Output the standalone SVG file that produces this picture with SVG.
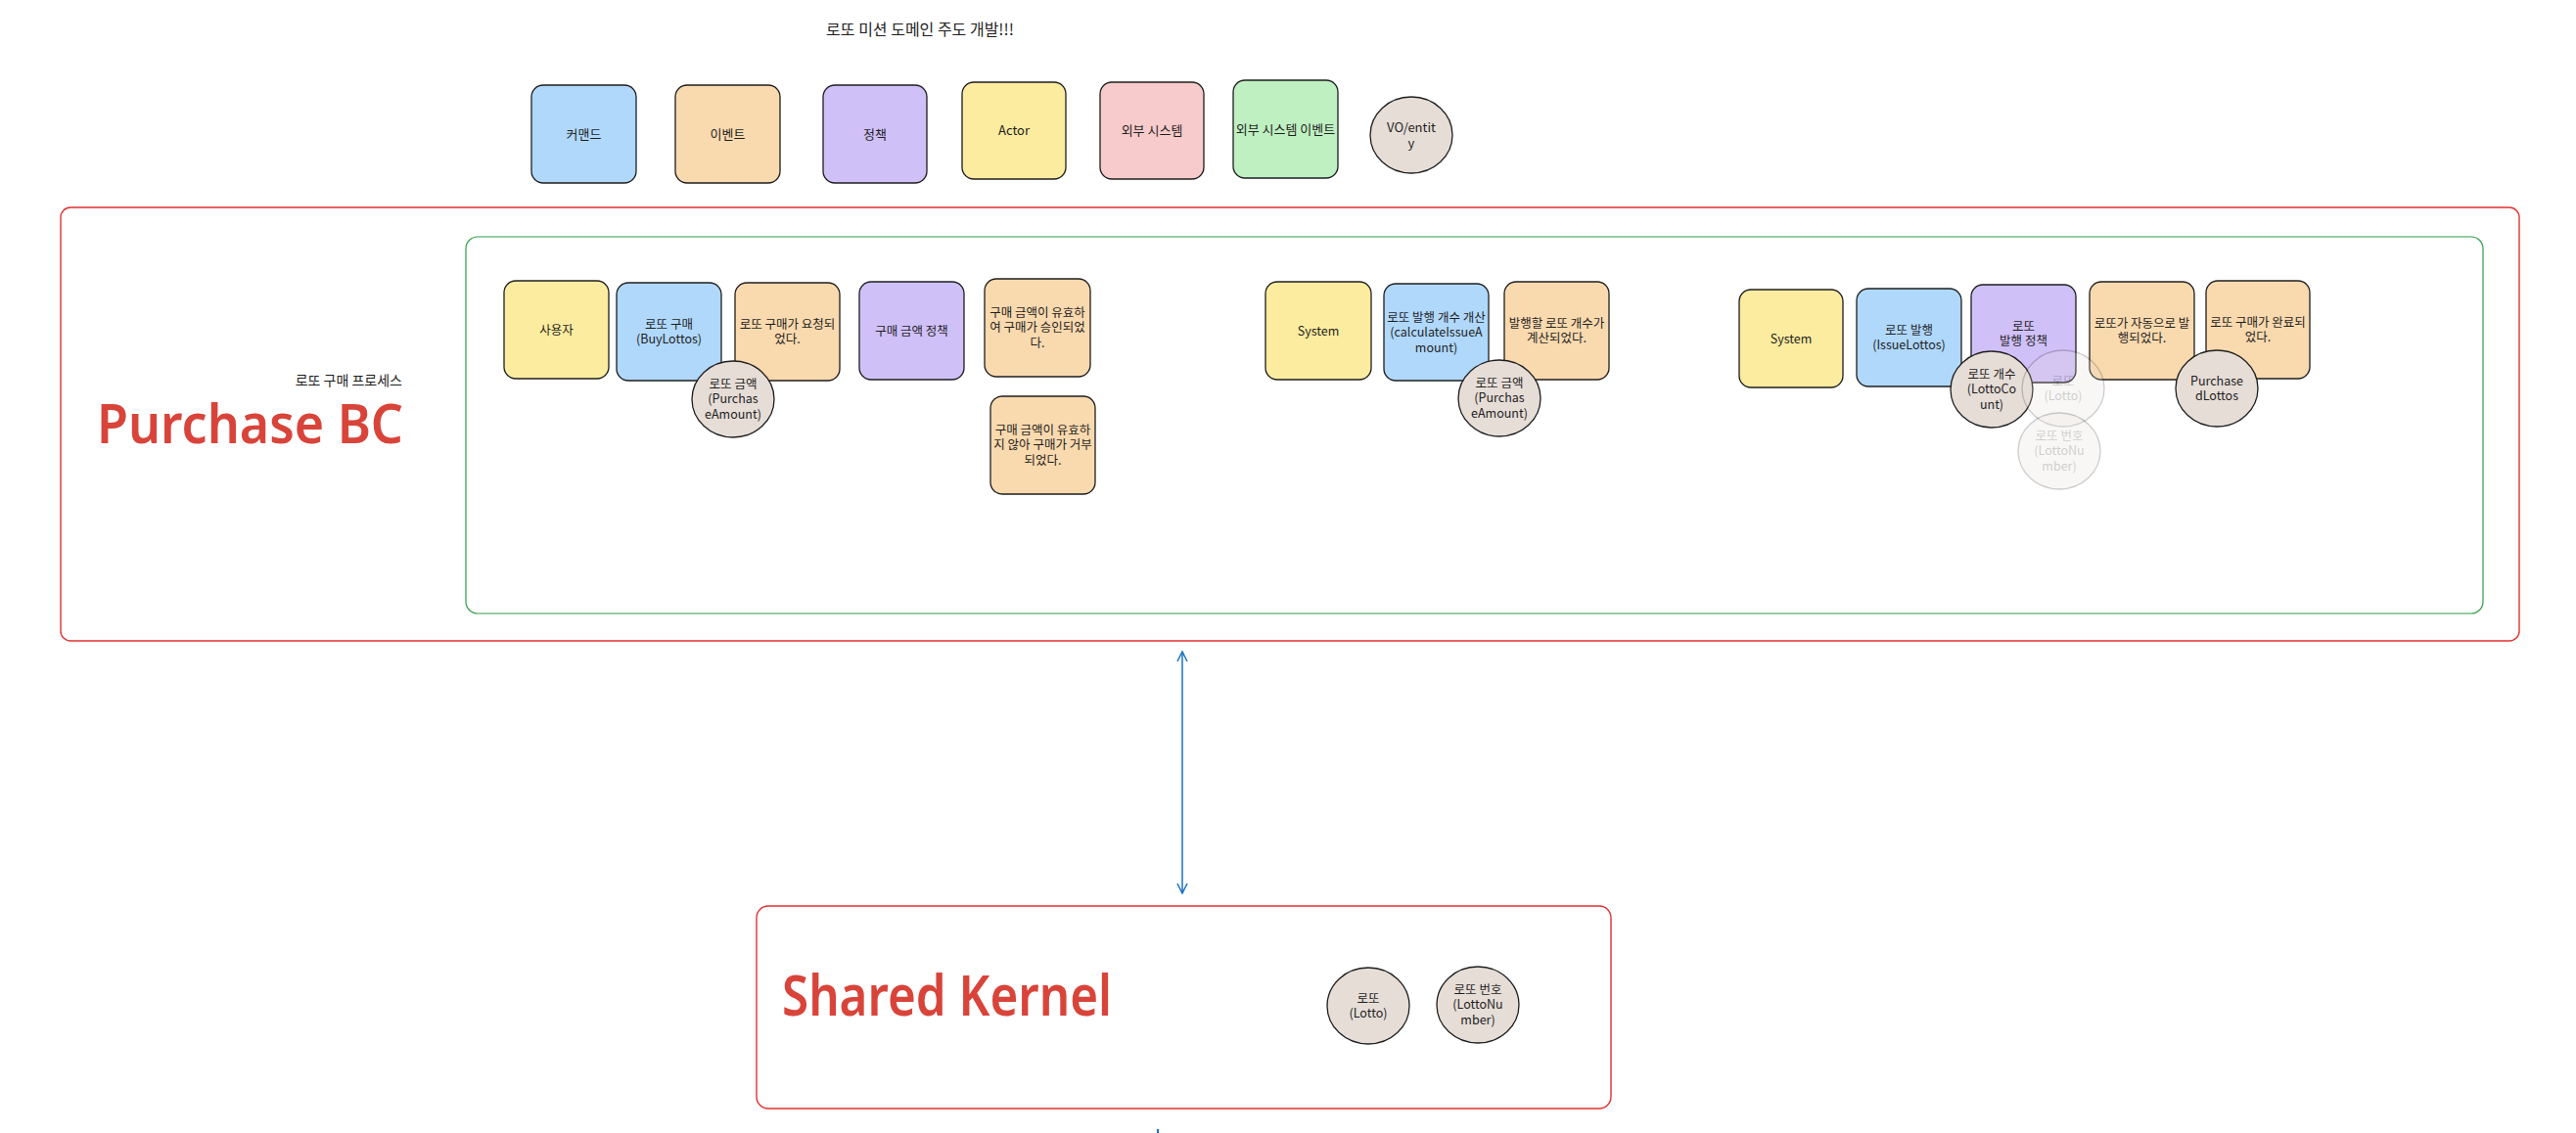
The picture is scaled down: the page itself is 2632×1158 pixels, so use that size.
<svg xmlns="http://www.w3.org/2000/svg" width="2632" height="1158" viewBox="0 0 2632 1158">
<style>
  text { font-family: "Noto Sans CJK KR", "Noto Sans", sans-serif; fill: #1e1e1e; text-anchor: middle; }
  .t { font-size: 12.5px; }
  .tl { font-size: 13px; }
  .box { stroke: #1e1e1e; stroke-width: 1.3; }
  .blue { fill: #b0d8fb; }
  .orange { fill: #f9d9ae; }
  .purple { fill: #d0c0f8; }
  .yellow { fill: #fcec9f; }
  .pink { fill: #f7cbcb; }
  .green { fill: #bff0c1; }
  .vo { fill: #e6ddd7; stroke: #1e1e1e; stroke-width: 1.3; }
  .faded { opacity: 0.22; }
  .frame-red { fill: none; stroke: #e03131; stroke-width: 1.4; }
  .frame-green { fill: none; stroke: #2f9e44; stroke-width: 1.2; }
  .big { font-family: "Noto Sans", "Liberation Sans", sans-serif; fill: #d9443a; font-weight: 600; text-anchor: start; }
  .conn { stroke: #1971c2; stroke-width: 1.5; fill: none; }
</style>
<defs>
  <marker id="arr" viewBox="0 0 12 12" refX="11" refY="6" markerWidth="12" markerHeight="12" markerUnits="userSpaceOnUse" orient="auto-start-reverse">
    <path d="M1,1 L11,6 L1,11" fill="none" stroke="#1971c2" stroke-width="1.5"/>
  </marker>
</defs>
<rect width="2632" height="1158" fill="#ffffff"/>

<!-- title -->
<text id="title" x="940" y="36" style="font-size:16px">로또 미션 도메인 주도 개발!!!</text>

<!-- legend -->
<g id="legend-command"><rect class="box blue" x="543" y="87" width="107" height="100" rx="12"/><text class="tl" x="596.5" y="141.5">커맨드</text></g>
<g id="legend-event"><rect class="box orange" x="690" y="87" width="107" height="100" rx="12"/><text class="tl" x="743.5" y="141.5">이벤트</text></g>
<g id="legend-policy"><rect class="box purple" x="841" y="87" width="106" height="100" rx="12"/><text class="tl" x="894" y="141.5">정책</text></g>
<g id="legend-actor"><rect class="box yellow" x="983" y="84" width="106" height="99" rx="12"/><text class="tl" x="1036" y="138">Actor</text></g>
<g id="legend-external"><rect class="box pink" x="1124" y="84" width="106" height="99" rx="12"/><text class="tl" x="1177" y="138">외부 시스템</text></g>
<g id="legend-external-event"><rect class="box green" x="1260" y="82" width="107" height="100" rx="12"/><text class="tl" x="1313.5" y="136.5">외부 시스템 이벤트</text></g>
<g id="legend-vo"><ellipse class="vo" cx="1442" cy="138" rx="42" ry="39"/><text class="tl" x="1442" y="134.5">VO/entit</text><text class="tl" x="1442" y="151">y</text></g>

<!-- Purchase BC frame -->
<g id="purchase-bc">
  <rect class="frame-red" x="62" y="212" width="2512" height="443" rx="10"/>
  <text x="411" y="394" style="font-size:14px;text-anchor:end">로또 구매 프로세스</text>
  <text class="big" x="99" y="453" style="font-size:56px" textLength="313" lengthAdjust="spacingAndGlyphs">Purchase BC</text>
</g>
<g id="purchase-process">
  <rect class="frame-green" x="476" y="242" width="2061" height="385" rx="12"/>
</g>

<!-- process 1 -->
<g id="n-user"><rect class="box yellow" x="515" y="287" width="107" height="100" rx="12"/><text class="t" x="568.5" y="341.5">사용자</text></g>
<g id="n-buy"><rect class="box blue" x="630" y="289" width="107" height="100" rx="12"/><text class="t" x="683.5" y="335.5">로또 구매</text><text class="t" x="683.5" y="351">(BuyLottos)</text></g>
<g id="n-requested"><rect class="box orange" x="751" y="289" width="107" height="100" rx="12"/><text class="t" x="804.5" y="335.5">로또 구매가 요청되</text><text class="t" x="804.5" y="351">었다.</text></g>
<g id="n-amount-policy"><rect class="box purple" x="878" y="288" width="107" height="100" rx="12"/><text class="t" x="931.5" y="342.5">구매 금액 정책</text></g>
<g id="n-approved"><rect class="box orange" x="1006" y="285" width="108" height="100" rx="12"/><text class="t" x="1060" y="323.5">구매 금액이 유효하</text><text class="t" x="1060" y="339">여 구매가 승인되었</text><text class="t" x="1060" y="354.5">다.</text></g>
<g id="n-rejected"><rect class="box orange" x="1012" y="405" width="107" height="100" rx="12"/><text class="t" x="1065.5" y="443.5">구매 금액이 유효하</text><text class="t" x="1065.5" y="459">지 않아 구매가 거부</text><text class="t" x="1065.5" y="474.5">되었다.</text></g>
<g id="vo-amount-1"><ellipse class="vo" cx="749" cy="408" rx="42" ry="39"/><text class="t" x="749" y="396.5">로또 금액</text><text class="t" x="749" y="412">(Purchas</text><text class="t" x="749" y="427.5">eAmount)</text></g>

<!-- process 2 -->
<g id="n-system-1"><rect class="box yellow" x="1293" y="288" width="108" height="100" rx="12"/><text class="t" x="1347" y="342.5">System</text></g>
<g id="n-calc"><rect class="box blue" x="1414" y="290" width="107" height="99" rx="12"/><text class="t" x="1467.5" y="328.5">로또 발행 개수 개산</text><text class="t" x="1467.5" y="344">(calculateIssueA</text><text class="t" x="1467.5" y="359.5">mount)</text></g>
<g id="n-calculated"><rect class="box orange" x="1537" y="288" width="107" height="100" rx="12"/><text class="t" x="1590.5" y="334.5">발행할 로또 개수가</text><text class="t" x="1590.5" y="350">계산되었다.</text></g>
<g id="vo-amount-2"><ellipse class="vo" cx="1532" cy="407" rx="42" ry="39"/><text class="t" x="1532" y="395.5">로또 금액</text><text class="t" x="1532" y="411">(Purchas</text><text class="t" x="1532" y="426.5">eAmount)</text></g>

<!-- process 3 -->
<g id="n-system-2"><rect class="box yellow" x="1777" y="296" width="106" height="100" rx="12"/><text class="t" x="1830" y="350.5">System</text></g>
<g id="n-issue"><rect class="box blue" x="1897" y="295" width="107" height="100" rx="12"/><text class="t" x="1950.5" y="341.5">로또 발행</text><text class="t" x="1950.5" y="357">(IssueLottos)</text></g>
<g id="n-issue-policy"><rect class="box purple" x="2014" y="291" width="107" height="100" rx="12"/><text class="t" x="2067.5" y="337.5">로또</text><text class="t" x="2067.5" y="353">발행 정책</text></g>
<g id="n-issued"><rect class="box orange" x="2135" y="288" width="107" height="100" rx="12"/><text class="t" x="2188.5" y="334.5">로또가 자동으로 발</text><text class="t" x="2188.5" y="350">행되었다.</text></g>
<g id="n-done"><rect class="box orange" x="2254" y="287" width="106" height="100" rx="12"/><text class="t" x="2307" y="333.5">로또 구매가 완료되</text><text class="t" x="2307" y="349">었다.</text></g>
<g id="vo-count"><ellipse class="vo" cx="2035" cy="398" rx="42" ry="39"/><text class="t" x="2035" y="386.5">로또 개수</text><text class="t" x="2035" y="402">(LottoCo</text><text class="t" x="2035" y="417.5">unt)</text></g>
<g id="vo-lotto-faded" class="faded"><ellipse class="vo" cx="2108" cy="397" rx="42" ry="39"/><text class="t" x="2108" y="393.5">로또</text><text class="t" x="2108" y="409">(Lotto)</text></g>
<g id="vo-number-faded" class="faded"><ellipse class="vo" cx="2104" cy="461" rx="42" ry="39"/><text class="t" x="2104" y="449.5">로또 번호</text><text class="t" x="2104" y="465">(LottoNu</text><text class="t" x="2104" y="480.5">mber)</text></g>
<g id="vo-purchased"><ellipse class="vo" cx="2265" cy="397" rx="42" ry="39"/><text class="t" x="2265" y="393.5">Purchase</text><text class="t" x="2265" y="409">dLottos</text></g>

<!-- Shared Kernel -->
<g id="shared-kernel">
  <rect class="frame-red" x="773" y="926" width="873" height="207" rx="12"/>
  <text class="big" x="799" y="1038" style="font-size:58px" textLength="337" lengthAdjust="spacingAndGlyphs">Shared Kernel</text>
</g>
<g id="sk-lotto"><ellipse class="vo" cx="1398" cy="1028" rx="42" ry="39"/><text class="t" x="1398" y="1024.5">로또</text><text class="t" x="1398" y="1040">(Lotto)</text></g>
<g id="sk-number"><ellipse class="vo" cx="1510" cy="1027" rx="42" ry="39"/><text class="t" x="1510" y="1015.5">로또 번호</text><text class="t" x="1510" y="1031">(LottoNu</text><text class="t" x="1510" y="1046.5">mber)</text></g>

<!-- connectors -->
<g id="connectors">
  <line class="conn" x1="1208" y1="666" x2="1208" y2="913" marker-start="url(#arr)" marker-end="url(#arr)"/>
  <rect x="1182" y="1154" width="2" height="4" fill="#1971c2"/>
</g>
</svg>
